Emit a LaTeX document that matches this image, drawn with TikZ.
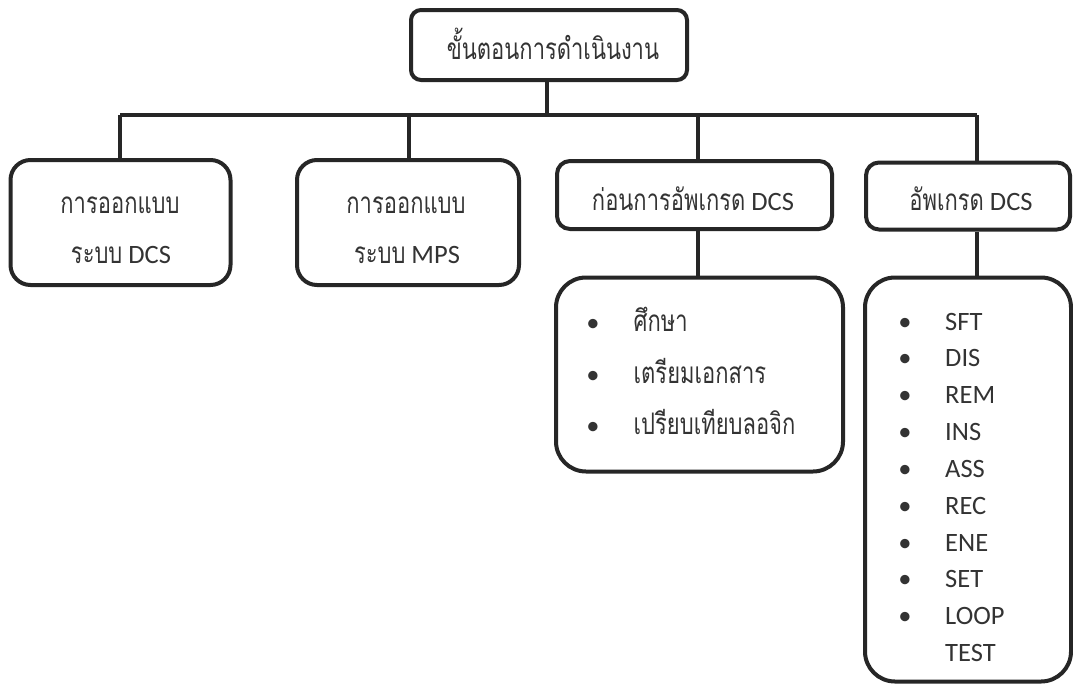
\documentclass[tikz,border=0pt]{standalone}
\usepackage{fontspec}
\setmainfont{Carlito}
\newfontfamily\thaifont[Script=Thai,Scale=1.12,FakeStretch=0.74]{Loma}
\definecolor{ink}{HTML}{262626}
\definecolor{txt}{HTML}{333333}
\begin{document}
\begin{tikzpicture}[x=1pt,y=-1pt,
  box/.style={draw=ink,line width=4pt,inner sep=0pt},
  link/.style={draw=ink,line width=4pt},
  lbl/.style={text=txt,inner sep=0pt,anchor=base,font=\fontsize{26.5}{30}\selectfont},
  item/.style={lbl,anchor=base west},
  dot/.style={lbl,anchor=base}]
\useasboundingbox (0,0) rectangle (1073,683);
\fill[white] (0,0) rectangle (1073,683);

% boxes
\node[box,rounded corners=10pt,minimum width=276pt,minimum height=70pt] (top) at (549,45) {};
\node[box,rounded corners=20pt,minimum width=220pt,minimum height=125pt] (b1) at (120.5,222.5) {};
\node[box,rounded corners=20pt,minimum width=222pt,minimum height=125pt] (b2) at (408,222.5) {};
\node[box,rounded corners=13pt,minimum width=275pt,minimum height=68pt] (b3) at (694.5,195) {};
\node[box,rounded corners=13pt,minimum width=204pt,minimum height=67pt] (b4) at (968,196) {};
\node[box,rounded corners=30pt,minimum width=287pt,minimum height=194pt] (l1) at (699.5,374.5) {};
\node[box,rounded corners=30pt,minimum width=206pt,minimum height=404pt] (l2) at (968,479.5) {};

% bus
\coordinate (busL) at (120,115);
\coordinate (busR) at (977,115);
\coordinate (hub) at (547,115);
\draw[link] (top.south -| hub) -- (hub);
\draw[link] (busL) -- (busR);
\draw[link] (busL) -- (b1.north -| busL);
\draw[link] (hub -| 409,0) -- (b2.north -| 409,0);
\draw[link] (hub -| 698,0) -- (b3.north -| 698,0);
\draw[link] (busR) -- (b4.north -| busR);
\draw[link] (b3.south -| 698,0) -- (l1.north -| 698,0);
\draw[link] (b4.south -| busR) -- (l2.north -| busR);

% labels
\node[lbl] (ttop) at (553,59) {\thaifont ขั้นตอนการดำเนินงาน};
\node[lbl] (t1a) at (120,213) {\thaifont การออกแบบ};
\node[lbl] (t1b) at (121,263) {{\thaifont ระบบ} DCS};
\node[lbl] (t2a) at (406,213) {\thaifont การออกแบบ};
\node[lbl] (t2b) at (407,263) {{\thaifont ระบบ} MPS};
\node[lbl] (t3) at (693,210) {{\thaifont ก่อนการอัพเกรด} DCS};
\node[lbl] (t4) at (971,210) {{\thaifont อัพเกรด} DCS};

% first list
\foreach \i/\t in {0/ศึกษา,1/เตรียมเอกสาร,2/เปรียบเทียบลอจิก}{
  \node[dot] (pa\i) at (593,331.5+51.7*\i) {•};
  \node[item] (ia\i) at (633.5,331.5+51.7*\i) {\thaifont \t};
}
% second list
\foreach \i/\t in {0/SFT,1/DIS,2/REM,3/INS,4/ASS,5/REC,6/ENE,7/SET,8/LOOP}{
  \node[dot] (pb\i) at (905,330+36.85*\i) {•};
  \node[item] (ib\i) at (945,330+36.85*\i) {\t};
}
\node[item] (ib9) at (945,330+36.85*9) {TEST};
\end{tikzpicture}
\end{document}
